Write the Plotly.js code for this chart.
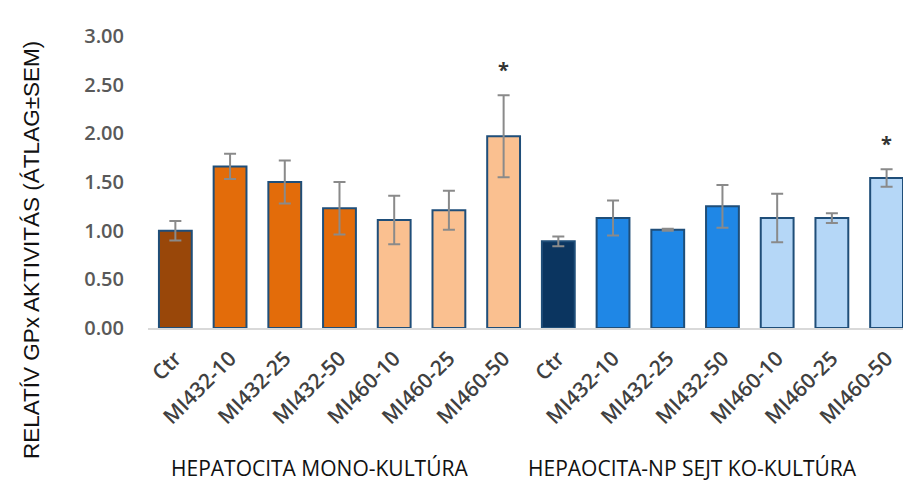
<!DOCTYPE html>
<html>
<head>
<meta charset="utf-8">
<script src="https://cdn.plot.ly/plotly-3.0.1.min.js"></script>
<style>html,body{margin:0;padding:0;background:#fff;}#chart{width:903px;height:495px;}</style>
</head>
<body>
<div id="chart"></div>
<script>
// Category labels (same set for both groups)
const labels = ["Ctr", "MI432-10", "MI432-25", "MI432-50", "MI460-10", "MI460-25", "MI460-50"];
// Hepatocyte mono-culture
const monoValues = [1.00, 1.66, 1.50, 1.23, 1.11, 1.21, 1.97];
const monoErr    = [0.10, 0.13, 0.22, 0.27, 0.25, 0.20, 0.42];
// Hepatocyte–NP co-culture
const coValues = [0.89, 1.13, 1.01, 1.25, 1.13, 1.13, 1.54];
const coErr    = [0.05, 0.18, 0.01, 0.22, 0.25, 0.05, 0.09];
// Group titles
const groupTitles = ["HEPATOCITA MONO-KULTÚRA", "HEPAOCITA-NP SEJT KO-KULTÚRA"];
// Significance markers (index within the full 14-bar sequence)
const starIdx = [6, 13];

const monoColors = ["#994709", "#E36C0A", "#E36C0A", "#E36C0A", "#FAC090", "#FAC090", "#FAC090"];
const coColors   = ["#0B3560", "#1F87E6", "#1F87E6", "#1F87E6", "#B5D7F7", "#B5D7F7", "#B5D7F7"];

const allLabels = labels.concat(labels);
const allValues = monoValues.concat(coValues);
const allErr = monoErr.concat(coErr);
const xs = allLabels.map((_, i) => i);

const trace = {
  type: "bar",
  x: xs,
  y: allValues,
  width: 0.6,
  marker: {color: monoColors.concat(coColors), line: {color: "#1F4E79", width: 2}},
  error_y: {type: "data", array: allErr, visible: true, color: "#8A8A8A", thickness: 2, width: 6},
  hoverinfo: "none"
};

const annotations = [];
starIdx.forEach(i => {
  annotations.push({
    x: i, y: allValues[i] + allErr[i], xref: "x", yref: "y",
    text: "*", showarrow: false, yshift: 26,
    font: {family: "Open Sans", size: 20, color: "#333", weight: "bold"}
  });
});
annotations.push({
  xref: "x", yref: "paper", x: 2.63, y: 0, yshift: -140, xanchor: "center", yanchor: "middle",
  text: groupTitles[0], showarrow: false,
  font: {family: "Open Sans", size: 21, color: "#111"}
});
annotations.push({
  xref: "x", yref: "paper", x: 9.45, y: 0, yshift: -140, xanchor: "center", yanchor: "middle",
  text: groupTitles[1], showarrow: false,
  font: {family: "Open Sans", size: 21, color: "#111"}
});
annotations.push({
  xref: "paper", yref: "paper", x: 0, xshift: -117, y: 0.267, textangle: -90,
  xanchor: "center", yanchor: "middle",
  text: "RELATÍV GPx AKTIVITÁS (ÁTLAG±SEM)", showarrow: false,
  font: {family: "Liberation Sans", size: 22.5, color: "#111"}
});

const layout = {
  width: 903, height: 495,
  margin: {l: 148, r: 0, t: 36, b: 167},
  paper_bgcolor: "#fff", plot_bgcolor: "#fff",
  showlegend: false,
  xaxis: {
    range: [-0.5, 13.3], tickmode: "array", tickvals: xs, ticktext: allLabels,
    tickangle: -45, showgrid: false, zeroline: false,
    showline: true, linecolor: "#D9D9D9", linewidth: 2, ticks: "",
    ticklabelstandoff: 8,
    tickfont: {family: "Open Sans", size: 21, color: "#404040", weight: 600}
  },
  yaxis: {
    range: [0, 3], tickvals: [0, 0.5, 1, 1.5, 2, 2.5, 3], tickformat: ".2f",
    showgrid: false, zeroline: false, showline: false, ticks: "",
    ticklabelstandoff: 23,
    tickfont: {family: "Open Sans", size: 20, color: "#595959", weight: 600}
  },
  annotations: annotations
};

Plotly.newPlot("chart", [trace], layout, {displayModeBar: false, staticPlot: true});
</script>
</body>
</html>
